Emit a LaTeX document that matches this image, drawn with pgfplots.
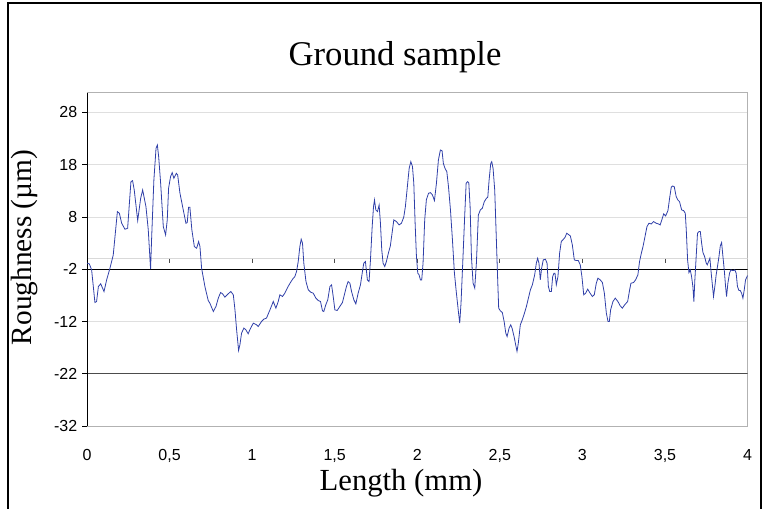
\documentclass[border=0pt]{standalone}
\usepackage{fontspec}
\setmainfont{Liberation Serif}
\newfontfamily\arial{Liberation Sans}
\usepackage{pgfplots}
\pgfplotsset{compat=1.18}
\definecolor{curve}{HTML}{2F3FA8}

\begin{document}
\begin{tikzpicture}[x=0.75pt,y=0.75pt]
% picture measured in pixels of the 763x508 reference
\path[use as bounding box] (0,0) rectangle (763,508);
\draw[line width=0.9pt] (8,-20) -- (8,505) -- (761,505) -- (761,-20);

\node[font=\fontsize{26}{30}\selectfont, anchor=base] at (395,442) {Ground sample};
\node[font=\fontsize{22}{26}\selectfont, anchor=base, rotate=90] at (31.5,260.5) {Roughness (µm)};
\node[font=\fontsize{23}{27}\selectfont, anchor=base] at (401,18) {Length (mm)};

\begin{axis}[
  at={(65.25pt,61.5pt)}, anchor=south west,
  scale only axis, width=495.4pt, height=250.1pt,
  xmin=0, xmax=4, ymin=-32, ymax=31.8,
  xtick={0,0.5,1,1.5,2,2.5,3,3.5,4},
  xticklabels={0,{0,5},1,{1,5},2,{2,5},3,{3,5},4},
  ytick={-32,-22,-12,-2,8,18,28},
  yticklabels={-32,-22,-12,-2,8,18,28},
  ticklabel style={font=\arial\fontsize{12}{14}\selectfont},
  xticklabel style={yshift=-10pt},
  axis line style={draw=gray!60, line width=0.75pt},
  ymajorgrids, grid style={gray!25, line width=0.6pt},
  tick align=outside, ytick pos=left, major tick length=3.75pt,
  ytick style={black, line width=0.6pt},
  xtick style={draw=none},
  clip mode=individual,
]
\addplot[gray!30, line width=0.6pt] coordinates {(0,0) (4,0)};
\addplot[black, line width=0.9pt] coordinates {(0,-2) (4,-2)};
\addplot[gray!60!black, line width=1pt] coordinates {(0,-22) (4,-22)};
\pgfplotsinvokeforeach{0.5,1,1.5,2,2.5,3,3.5}{
  \draw[gray!60!black, line width=0.6pt] (axis cs:#1,0) -- (axis cs:#1,-0.9);
}
\draw[black, line width=0.75pt] (rel axis cs:0,0) -- (rel axis cs:0,1);

\addplot[curve, line width=0.6pt] coordinates {
(0.000,-0.85)(0.014,-0.98)(0.028,-2.13)(0.048,-8.37)(0.058,-8.18)(0.069,-5.31)
(0.083,-4.80)(0.103,-6.27)(0.119,-4.04)(0.139,-1.81)(0.159,0.74)(0.184,9.02)
(0.196,8.70)(0.210,6.79)(0.230,5.64)(0.246,5.83)(0.266,14.75)(0.276,14.94)
(0.286,13.16)(0.307,7.30)(0.325,11.57)(0.337,13.16)(0.357,9.97)(0.371,5.52)
(0.385,-2.0)(0.391,3.61)(0.405,15.07)(0.418,21.12)(0.426,21.76)(0.434,19.53)
(0.446,14.43)(0.462,6.15)(0.476,4.56)(0.486,7.43)(0.494,13.48)(0.506,15.71)
(0.516,16.47)(0.526,15.39)(0.541,16.34)(0.549,16.03)(0.563,12.52)(0.579,9.97)
(0.599,6.79)(0.607,6.92)(0.615,9.85)(0.623,9.85)(0.635,5.52)(0.650,2.33)
(0.664,2.01)(0.676,3.29)(0.684,2.33)(0.694,-1.81)(0.714,-5.31)(0.734,-7.99)
(0.744,-8.50)(0.765,-10.09)(0.781,-9.13)(0.795,-7.54)(0.809,-6.46)(0.821,-6.71)
(0.835,-7.35)(0.855,-6.71)(0.871,-6.27)(0.886,-6.90)(0.896,-9.77)(0.906,-13.59)
(0.918,-17.54)
(0.926,-16.46)(0.936,-14.23)(0.950,-13.27)(0.962,-13.59)(0.976,-14.36)(0.986,-13.59)
(1.007,-12.32)(1.027,-12.64)(1.037,-12.96)(1.057,-12.00)(1.071,-11.55)(1.087,-11.36)
(1.108,-9.77)(1.128,-8.18)(1.144,-9.45)(1.158,-8.18)(1.168,-6.90)(1.184,-7.22)
(1.198,-6.59)(1.218,-5.31)(1.232,-4.55)(1.245,-3.91)(1.259,-3.40)(1.269,-2.45)
(1.279,-0.54)(1.289,2.33)(1.297,3.73)(1.305,2.97)(1.313,-0.85)(1.326,-4.36)
(1.340,-5.95)(1.354,-6.39)(1.370,-6.59)(1.386,-7.54)(1.400,-7.99)(1.414,-8.18)
(1.426,-9.96)(1.434,-10.09)(1.446,-8.82)(1.458,-7.86)(1.471,-5.31)(1.481,-4.99)
(1.491,-7.22)(1.501,-9.77)(1.515,-9.90)(1.531,-9.13)(1.547,-8.37)(1.561,-6.59)
(1.571,-5.31)(1.581,-4.36)(1.592,-4.68)(1.602,-6.27)(1.616,-7.86)(1.628,-8.62)
(1.642,-6.59)(1.656,-4.99)(1.668,-2.45)(1.676,-0.85)(1.686,-0.54)(1.698,-4.04)
(1.708,-4.36)(1.716,-0.54)(1.727,6.15)(1.735,9.97)(1.741,11.25)(1.749,9.34)
(1.759,9.02)(1.769,10.29)(1.777,6.79)(1.785,1.69)(1.793,-0.85)(1.803,-1.49)
(1.813,-0.54)(1.825,1.06)(1.837,2.46)(1.850,5.52)(1.858,7.43)(1.874,7.11)
(1.890,6.47)(1.904,6.79)(1.918,7.94)(1.928,9.97)
(1.938,13.16)(1.951,17.30)(1.961,18.57)(1.971,17.62)(1.979,14.43)(1.987,6.79)
(1.995,0.42)(2.003,-2.76)(2.011,-3.08)(2.019,-4.04)(2.027,-4.04)(2.035,-0.85)
(2.045,7.43)(2.055,11.25)(2.068,12.52)(2.080,12.65)(2.092,12.20)(2.104,11.12)
(2.116,14.43)(2.128,18.89)(2.140,20.80)(2.150,20.68)(2.158,18.25)(2.168,17.30)
(2.179,16.66)(2.189,13.80)(2.201,9.34)(2.213,3.61)(2.225,-2.76)(2.237,-6.59)
(2.249,-10.09)(2.257,-12.32)(2.265,-8.50)(2.277,0.42)(2.287,8.06)(2.296,14.43)
(2.304,14.75)(2.312,14.56)(2.320,9.97)(2.328,0.42)(2.338,-4.68)(2.348,-5.63)
(2.358,-0.85)(2.370,8.38)(2.382,9.34)(2.394,9.66)(2.406,10.93)(2.419,11.57)
(2.427,11.76)(2.435,15.07)(2.445,18.25)(2.451,18.57)(2.459,17.30)(2.469,13.16)
(2.479,3.61)(2.487,-4.04)(2.493,-9.45)(2.503,-9.96)(2.515,-10.28)(2.526,-12.00)
(2.536,-14.23)(2.544,-14.87)(2.556,-13.27)(2.566,-12.64)(2.574,-13.27)(2.586,-14.87)
(2.596,-16.46)(2.604,-17.73)(2.612,-16.14)(2.624,-12.64)(2.636,-11.68)(2.649,-10.41)
(2.661,-9.13)(2.673,-7.54)(2.685,-5.95)(2.697,-4.99)(2.711,-3.08)(2.721,-0.85)
(2.729,0.10)(2.737,-0.85)(2.745,-4.04)(2.753,-1.81)(2.763,-0.22)(2.776,-0.09)
(2.786,-0.85)(2.794,-5.31)(2.802,-6.27)(2.812,-6.27)(2.820,-3.40)(2.828,-2.76)
(2.834,-2.76)(2.842,-4.99)(2.852,-3.40)(2.862,1.06)(2.872,3.29)(2.882,3.61)
(2.895,4.11)(2.905,4.88)
(2.927,4.37)(2.939,2.65)(2.951,-0.22)(2.963,-0.34)(2.975,-0.34)(2.987,-1.17)
(2.997,-3.40)(3.008,-6.90)(3.020,-6.59)(3.032,-5.82)(3.044,-6.46)(3.060,-7.22)
(3.072,-6.90)(3.084,-4.68)(3.094,-3.72)(3.108,-4.04)(3.121,-4.55)(3.133,-6.59)
(3.145,-10.41)(3.155,-12.00)(3.163,-12.00)(3.171,-9.77)(3.185,-8.18)(3.199,-7.54)
(3.215,-8.18)(3.229,-9.01)(3.242,-9.45)(3.256,-8.82)(3.274,-8.18)(3.286,-5.95)
(3.294,-4.68)(3.310,-4.55)(3.322,-4.04)(3.336,-3.08)(3.346,-0.54)(3.357,1.06)
(3.367,2.33)(3.379,4.24)(3.391,6.15)(3.403,6.79)(3.417,6.66)(3.431,7.11)
(3.447,6.79)(3.461,6.66)(3.471,6.47)(3.484,7.75)(3.492,8.57)(3.504,8.19)
(3.518,9.21)(3.528,11.57)(3.538,13.67)(3.546,13.92)(3.556,13.80)(3.568,11.89)
(3.578,11.25)(3.588,10.93)(3.601,9.34)(3.613,9.21)(3.623,8.70)(3.629,5.52)
(3.637,-0.22)(3.645,-2.64)(3.653,-2.13)(3.661,-3.40)(3.669,-5.31)(3.675,-8.18)
(3.681,-4.04)(3.689,0.42)(3.697,4.88)(3.706,5.20)(3.714,5.20)(3.722,2.97)
(3.730,1.18)(3.740,0.42)(3.750,-0.85)(3.756,-1.17)(3.764,-0.54)(3.772,0.10)
(3.780,-2.76)(3.788,-5.31)(3.794,-7.22)(3.802,-5.31)(3.810,-3.08)(3.818,-1.49)
(3.827,0.42)(3.835,2.46)(3.843,3.10)(3.851,0.42)(3.859,-2.13)(3.867,-5.31)
(3.873,-7.22)(3.881,-4.68)(3.891,-2.76)(3.899,-2.13)(3.907,-2.25)(3.915,-2.25)
(3.923,-2.13)(3.931,-2.76)(3.939,-5.31)(3.948,-6.08)(3.956,-6.08)(3.964,-6.59)
(3.972,-7.54)(3.980,-5.95)(3.988,-4.04)(4.000,-3.20)
};
\end{axis}
\end{tikzpicture}
\end{document}
